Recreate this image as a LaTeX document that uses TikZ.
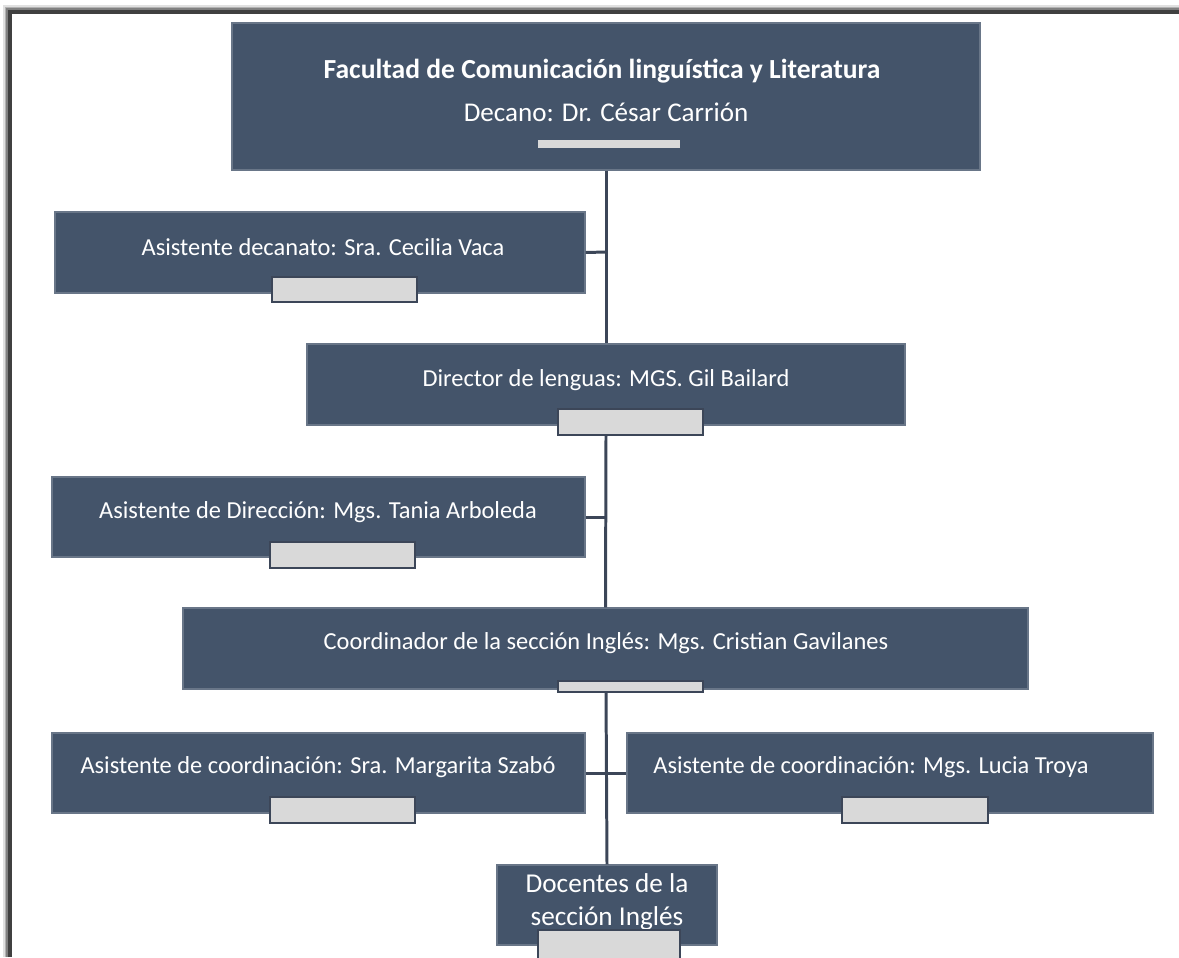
\documentclass[tikz,border=0pt]{standalone}
\usepackage{fontspec}
\setmainfont{Carlito}
\definecolor{boxfill}{HTML}{44546A}
\definecolor{barfill}{HTML}{D9D9D9}
\definecolor{linec}{HTML}{3C4658}
\tikzset{
  orgbox/.style={fill=boxfill, draw=boxfill!80!white, line width=0.6pt},
  orgtext/.style={text=white, font=\fontsize{13.9}{16}\selectfont, inner sep=0pt},
  gbar/.style={fill=barfill, draw=linec, line width=1.2pt},
  conn/.style={draw=linec, line width=1.7pt}
}
\begin{document}
\begin{tikzpicture}[x=0.02cm,y=-0.02cm]
\useasboundingbox (0,0) rectangle (1179,957);
% frame with shadow
\foreach \o/\c in {5/black!12,3.5/black!30,2/black!50}{
  \draw[line width=2pt,\c] (10-\o,957) -- (10-\o,12-\o) -- (1179,12-\o);
}
\draw[line width=2pt,black!75] (10,957) -- (10,12) -- (1179,12);

% boxes
\node[orgbox, minimum width=748*0.02cm, minimum height=147*0.02cm, inner sep=0pt] (dec) at (606,96.5) {};
\node[orgtext, font=\fontsize{15.7}{18}\selectfont\bfseries] (dect) at (602,71) {Facultad de Comunicación linguística y Literatura};
\node[orgtext, font=\fontsize{15.4}{18}\selectfont] (decn) at (606,112) {Decano: Dr. César Carrión};
\path[fill=barfill] (538,140) rectangle (680,148);

\node[orgbox, minimum width=530*0.02cm, minimum height=81*0.02cm, inner sep=0pt] (asd) at (320,252.5) {};
\node[orgtext] at (323,247) {Asistente decanato: Sra. Cecilia Vaca};
\path[gbar] (272,277) rectangle (417,302);

\node[orgbox, minimum width=598*0.02cm, minimum height=81*0.02cm, inner sep=0pt] (dir) at (606,384.5) {};
\node[orgtext] at (606,380) {Director de lenguas: MGS. Gil Bailard};
\path[gbar] (558,409) rectangle (703,435);

\node[orgbox, minimum width=533*0.02cm, minimum height=80*0.02cm, inner sep=0pt] (asdir) at (318.5,517) {};
\node[orgtext] at (318,512) {Asistente de Dirección: Mgs. Tania Arboleda};
\path[gbar] (270,542) rectangle (415,568);

\node[orgbox, minimum width=845*0.02cm, minimum height=81*0.02cm, inner sep=0pt] (coord) at (605.5,648.5) {};
\node[orgtext] at (606,643) {Coordinador de la sección Inglés: Mgs. Cristian Gavilanes};
\path[gbar] (558,681) rectangle (703,692);

\node[orgbox, minimum width=533*0.02cm, minimum height=80*0.02cm, inner sep=0pt] (acl) at (318.5,773) {};
\node[orgtext] at (318,767) {Asistente de coordinación: Sra. Margarita Szabó};
\path[gbar] (270,797) rectangle (415,823);

\node[orgbox, minimum width=526*0.02cm, minimum height=80*0.02cm, inner sep=0pt] (acr) at (890,773) {};
\node[orgtext] at (871,767) {Asistente de coordinación: Mgs. Lucia Troya};
\path[gbar] (842,797) rectangle (988,823);

\node[orgbox, minimum width=220*0.02cm, minimum height=80*0.02cm, inner sep=0pt] (doc) at (607,905) {};
\node[orgtext, font=\fontsize{15.5}{18.5}\selectfont, align=center] at (607,902) {Docentes de la\\sección Inglés};
\path[gbar] (538,930) rectangle (680,960);

% connectors
\coordinate (j1) at (606,252);
\coordinate (j2) at (606,517);
\draw[conn] (dec.south) -- (dir.north);
\draw[conn] (asd.east) -- (j1);
\draw[conn] (606,435) -- (coord.north);
\draw[conn] (asdir.east) -- (j2);
\draw[conn] (606,692) -- (doc.north);
\draw[conn] (acl.east) -- (acr.west);
\end{tikzpicture}
\end{document}
